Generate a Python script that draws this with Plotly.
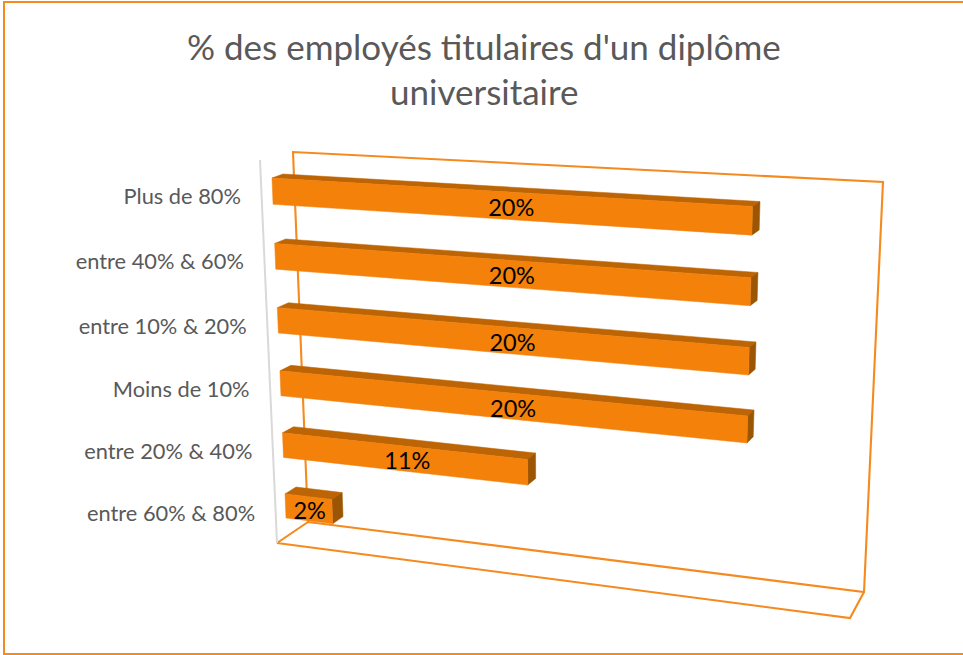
import numpy as np
import plotly.graph_objects as go

# --- data ---
categories = ["Plus de 80%", "entre 40% & 60%", "entre 10% & 20%", "Moins de 10%", "entre 20% & 40%", "entre 60% & 80%"]
values = [20, 20, 20, 20, 11, 2.2]
title_lines = ["% des employés titulaires d'un diplôme", "universitaire"]

ORANGE = "#F3810A"; TOP = "#BD6404"; SIDE = "#9C5503"; FRAME = "#F58A1F"; GREY_TXT = "#595959"
W, H = 963, 655
BAR_LO, BAR_HI = 0.3, 0.7


def homography(src, dst):
    A, b = [], []
    for (u, v), (x, y) in zip(src, dst):
        A.append([u, v, 1, 0, 0, 0, -u * x, -v * x]); b.append(x)
        A.append([0, 0, 0, u, v, 1, -u * y, -v * y]); b.append(y)
    h = np.linalg.solve(np.array(A, float), np.array(b, float))
    M = np.append(h, 1).reshape(3, 3)
    def f(u, v):
        p = M @ np.array([u, v, 1.0])
        return p[0] / p[2], p[1] / p[2]
    return f

# camera of the pseudo-3D chart: category slot t runs 0 (bottom) to 6 (top)
front = homography([(0, 5.7), (20, 5.7), (20, 2.3), (0, 0.3)], [(272, 178), (752.5, 206.5), (747, 443), (286, 518)])
back = homography([(0, 5.7), (20, 5.7), (20, 2.7), (0, 0.7)], [(283, 174), (760, 201.5), (754, 410), (296, 487)])

fig = go.Figure()


def poly(pts, color, width=0.5):
    xs, ys = zip(*pts)
    fig.add_trace(go.Scatter(x=list(xs) + [xs[0]], y=list(ys) + [ys[0]], mode="lines", fill="toself",
                             fillcolor=color, line=dict(color=color, width=width), hoverinfo="skip", showlegend=False))


def path(pts, color, width):
    xs, ys = zip(*pts)
    fig.add_trace(go.Scatter(x=list(xs), y=list(ys), mode="lines", line=dict(color=color, width=width),
                             hoverinfo="skip", showlegend=False))

# walls and floor
path([(308, 522), (293, 152), (883, 182), (864, 592), (308, 522), (277, 543), (850, 618), (864, 592)], FRAME, 2.1)
path([(260, 160), (277, 543)], "#D9D9D9", 2)

n = len(categories)
for i, (cat, val) in enumerate(zip(categories, values)):
    k = n - 1 - i
    lo, hi = k + BAR_LO, k + BAR_HI
    poly([front(0, hi), back(0, hi), back(val, hi), front(val, hi)], TOP)
    poly([front(val, hi), back(val, hi), back(val, lo), front(val, lo)], SIDE)
    poly([front(0, hi), front(val, hi), front(val, lo), front(0, lo)], ORANGE)

lx, ly, dx, dy = [], [], [], []
for i, (cat, val) in enumerate(zip(categories, values)):
    k = n - 1 - i
    x, y = front(-1.45, k + 0.5)
    lx.append(x); ly.append(y + 9 + 0.8 * i)
    x, y = front(val * 0.52, k + 0.5)
    dx.append(x); dy.append(y + 4.5)

fig.add_trace(go.Scatter(x=lx, y=ly, mode="text", text=categories, textposition="middle left",
                         textfont=dict(family="Lato", size=21.8, color=GREY_TXT), hoverinfo="skip", showlegend=False))
fig.add_trace(go.Scatter(x=dx, y=dy, mode="text", text=[f"{round(v)}%" for v in values], textposition="middle center",
                         textfont=dict(family="Lato", size=23.5, color="#000000"), hoverinfo="skip", showlegend=False))

fig.update_layout(
    width=W, height=H, margin=dict(l=0, r=0, t=0, b=0), paper_bgcolor="white", plot_bgcolor="white",
    xaxis=dict(range=[0, W], visible=False, fixedrange=True),
    yaxis=dict(range=[H, 0], visible=False, fixedrange=True),
    annotations=[dict(x=484, y=46 + 44.5 * j, xref="x", yref="y", text=t, showarrow=False, xanchor="center", yanchor="middle",
                      font=dict(family="Lato", size=35, color=GREY_TXT)) for j, t in enumerate(title_lines)],
    shapes=[dict(type="rect", x0=4, y0=2, x1=970, y1=654, xref="x", yref="y", line=dict(color=FRAME, width=2), layer="below")],
)
fig.write_html("out.html", config={"displayModeBar": False}, post_script="document.body.style.margin='0';")
